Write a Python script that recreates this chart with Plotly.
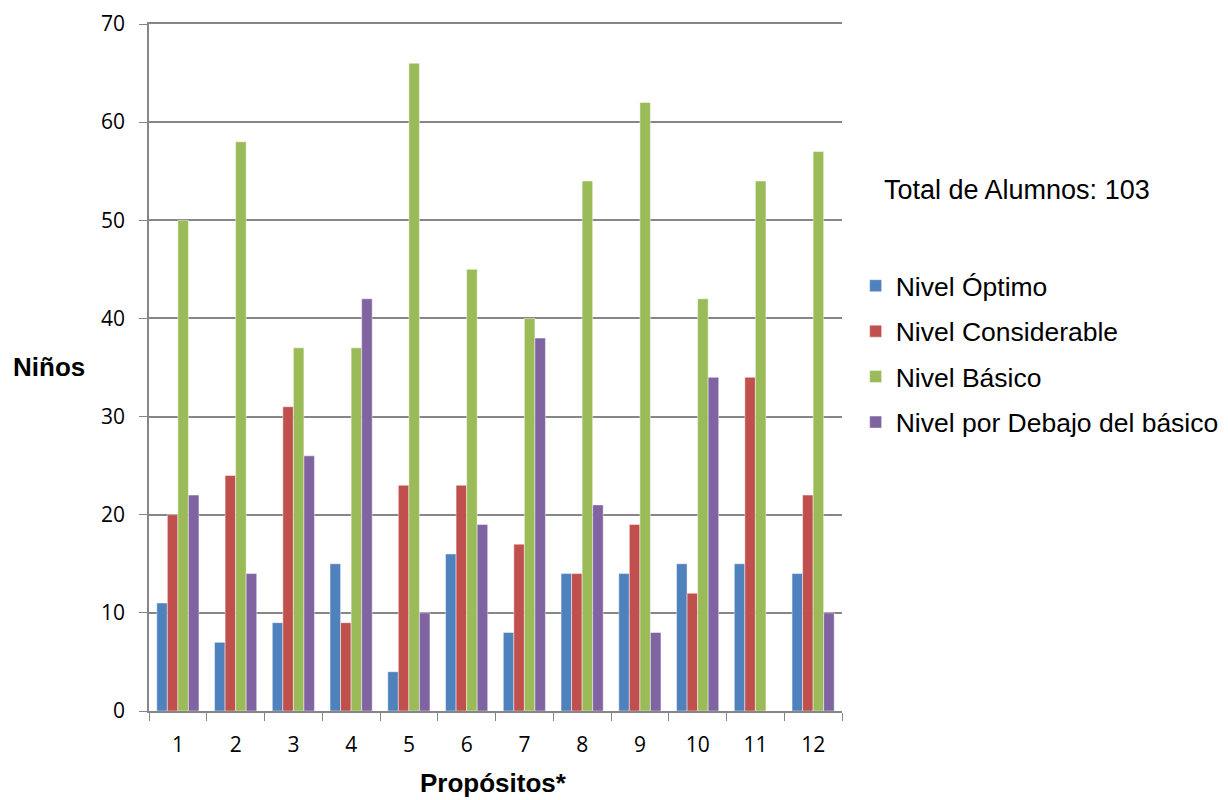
import plotly.graph_objects as go

categories = ["1", "2", "3", "4", "5", "6", "7", "8", "9", "10", "11", "12"]
optimo = [11, 7, 9, 15, 4, 16, 8, 14, 14, 15, 15, 14]
considerable = [20, 24, 31, 9, 23, 23, 17, 14, 19, 12, 34, 22]
basico = [50, 58, 37, 37, 66, 45, 40, 54, 62, 42, 54, 57]
debajo = [22, 14, 26, 42, 10, 19, 38, 21, 8, 34, 0, 10]

series = [
    ("Nivel Óptimo", optimo, "#4F81BD"),
    ("Nivel Considerable", considerable, "#C0504D"),
    ("Nivel Básico", basico, "#9BBB59"),
    ("Nivel por Debajo del básico", debajo, "#8064A2"),
]

fig = go.Figure()
for i, (name, vals, color) in enumerate(series):
    fig.add_trace(go.Bar(
        x=categories, y=vals, name=name, legendgroup=f"g{i}",
        marker=dict(color=color, line=dict(color="rgba(255,255,255,0.45)", width=1)),
    ))

grey = "#868686"
tickfont = dict(size=21, family="Open Sans, Liberation Sans", color="black")
fig.update_layout(
    width=1228, height=800,
    paper_bgcolor="white", plot_bgcolor="white",
    margin=dict(l=141, r=387, t=16, b=97),
    barmode="group", bargap=0.27, bargroupgap=0,
    font=dict(family="Liberation Sans, Arial", color="black"),
    showlegend=True,
    legend=dict(
        x=1.0197, xanchor="left", y=0.6536, yanchor="top",
        font=dict(size=26.5, family="Liberation Sans, Arial"),
        tracegroupgap=8, itemwidth=30,
        bgcolor="rgba(0,0,0,0)",
    ),
    xaxis=dict(
        type="category", tickson="boundaries", ticks="outside", ticklen=8,
        tickcolor=grey, showline=True, linecolor=grey, linewidth=1.5, mirror=True,
        showgrid=False, tickfont=tickfont, ticklabelstandoff=14, automargin=False,
    ),
    yaxis=dict(
        range=[0, 70], dtick=10, ticks="outside", ticklen=8, tickcolor=grey,
        showline=True, linecolor=grey, linewidth=1.5,
        showgrid=True, gridcolor=grey, gridwidth=1.5, zeroline=False,
        tickfont=tickfont, ticklabelstandoff=10, automargin=False,
    ),
    annotations=[
        dict(text="Total de Alumnos: 103", xref="paper", yref="paper",
             x=1.0575, y=0.758, xanchor="left", yanchor="middle", showarrow=False,
             font=dict(size=27, family="Liberation Sans, Arial")),
        dict(text="<b>Niños</b>", xref="paper", yref="paper",
             x=-0.1441, y=0.5007, xanchor="center", yanchor="middle", showarrow=False,
             font=dict(size=26, family="Liberation Sans, Arial")),
        dict(text="<b>Propósitos*</b>", xref="paper", yref="paper",
             x=0.4964, y=-0.1048, xanchor="center", yanchor="middle", showarrow=False,
             font=dict(size=26, family="Liberation Sans, Arial")),
    ],
)
fig.write_html("out.html")
